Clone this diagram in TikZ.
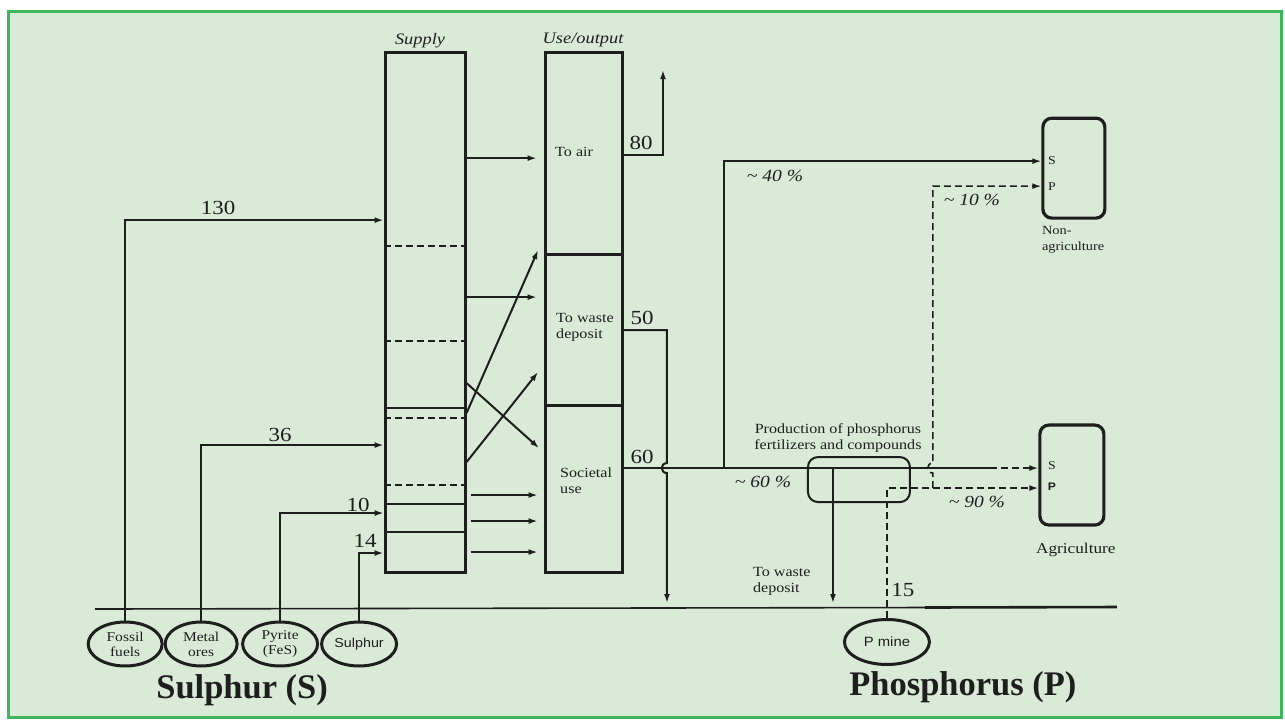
\documentclass[tikz,border=0pt]{standalone}
\usepackage{fontspec}
\setmainfont{Liberation Serif}
\newfontfamily\strserif[FakeStretch=1.15]{Liberation Serif}
\newfontfamily\strsans[FakeStretch=1.1]{Liberation Sans}
\usetikzlibrary{arrows.meta,shapes.geometric}
\definecolor{bgfill}{HTML}{D9EBD7}
\definecolor{framegreen}{HTML}{3DB55A}
\definecolor{ink}{HTML}{1E1E1E}
\begin{document}
\begin{tikzpicture}[x=1pt,y=-1pt, every path/.style={draw=ink}, every node/.style={text=ink},
  col/.style={draw=ink, line width=3pt, minimum width=80pt, minimum height=520pt, inner sep=0pt},
  arr/.style={-{Latex[length=9pt,width=6pt]}, line width=1.6pt},
  dsh/.style={dash pattern=on 7pt off 4pt},
  ell/.style={ellipse, draw=ink, line width=3pt, minimum width=74pt, minimum height=44pt, inner sep=0pt, align=center, font=\strserif\fontsize{13.5}{15}\selectfont},
  sbox/.style={draw=ink, rounded corners=9pt, line width=3.2pt, minimum width=62pt, minimum height=100pt},
  lbl/.style={font=\strserif\fontsize{14}{16}\selectfont, align=left, inner sep=0pt},
  num/.style={font=\strserif\fontsize{20}{21}\selectfont, inner sep=0pt},
  pct/.style={font=\strserif\itshape\fontsize{17}{18}\selectfont, inner sep=0pt},
  hdr/.style={font=\strserif\itshape\fontsize{16}{18}\selectfont, inner sep=0pt},
  ttl/.style={font=\bfseries\fontsize{34.5}{36}\selectfont, inner sep=0pt},
  sp/.style={font=\strserif\fontsize{12}{13}\selectfont, inner sep=0pt}
]
\useasboundingbox (0,0) rectangle (1285,720);
\fill[white] (0,0) rectangle (1285,720);
\draw[draw=framegreen, line width=3pt, fill=bgfill] (8.5,11.5) rectangle (1282,718);

% columns
\node[col] (supply) at (425,312) {};
\node[col, minimum width=77pt] (use) at (583.5,312) {};
\node[hdr] (supplyhdr) at (420,40) {Supply};
\node[hdr] (usehdr) at (583,40) {Use/output};

% use divisions
\draw[line width=3pt] (use.west |- 0,254) -- (use.east |- 0,254);
\draw[line width=3pt] (use.west |- 0,405) -- (use.east |- 0,405);
\node[lbl, anchor=west] (toair) at (555,152) {To air};
\node[lbl, anchor=west] (towaste) at (556,327) {To waste\\deposit};
\node[lbl, anchor=west] (societal) at (560,481) {Societal\\use};

% supply divisions
\foreach \yy in {246,341,418}
  \draw[dsh, line width=1.6pt] (supply.west |- 0,\yy) -- (supply.east |- 0,\yy);
\draw[dsh, line width=2.6pt] (supply.west |- 0,485) -- (supply.east |- 0,485);
\foreach \yy in {408,504,532}
  \draw[line width=2.6pt] (supply.west |- 0,\yy) -- (supply.east |- 0,\yy);

% supply -> use arrows
\coordinate (t1) at (538,250);
\coordinate (t2) at (538,372);
\coordinate (t3) at (539,448);
\draw[arr, shorten >=7pt] (supply.east |- 0,158) -- (use.west |- 0,158);
\draw[arr, shorten >=7pt] (supply.east |- 0,297) -- (use.west |- 0,297);
\draw[arr, line width=2pt] (supply.east |- 0,413) -- (t1);
\draw[arr, line width=2pt] (supply.east |- 0,462) -- (t2);
\draw[arr, line width=2pt] (supply.east |- 0,383) -- (t3);
\foreach \yy in {495,521,552}
  \draw[arr, shorten <=4pt, shorten >=6pt] (supply.east |- 0,\yy) -- (use.west |- 0,\yy);

% sources
\node[ell] (fossil) at (125,644) {Fossil\\fuels};
\node[ell, minimum width=72pt] (metal) at (201,644) {Metal\\ores};
\node[ell, minimum width=75pt] (pyrite) at (280,644) {Pyrite\\(FeS)};
\node[ell, minimum width=75pt, font=\strsans\fontsize{13}{15}\selectfont] (sulph) at (359,644) {Sulphur};
\node[ell, minimum width=85pt, minimum height=45pt, font=\strsans\fontsize{13.5}{15}\selectfont] (pmine) at (887,642) {P mine};

\draw[arr, line width=2pt] (fossil.north) |- (supply.west |- 0,220);
\draw[arr] (metal.north) |- (supply.west |- 0,445);
\draw[arr] (pyrite.north) |- (supply.west |- 0,513);
\draw[arr, line width=2pt] (sulph.north) |- (supply.west |- 0,553);
\node[num] (n130) at (218,208) {130};
\node[num] (n36) at (280,435) {36};
\node[num] (n10) at (358,505) {10};
\node[num] (n14) at (365,541) {14};

% ground line
\coordinate (gl) at (95,609);
\coordinate (gm) at (925,607.5);
\coordinate (gr) at (1117,607);
\draw[line width=1.6pt] (gl) -- (gm);
\draw[line width=2.6pt] (gm) -- (gr);

% outputs
\coordinate (airtop) at (663,70);
\draw[arr] (use.east |- 0,155) -| (airtop);
\node[num] (n80) at (641,143) {80};

\coordinate (w50) at (667,603);
\draw[arr, line width=2pt] (use.east |- 0,330) -- (667,330) -- (667,463) .. controls (660,463) and (660,473) .. (667,473) -- (w50);
\node[num] (n50) at (642,318) {50};

% boxes
\node[sbox] (nonagri) at (1074,168) {};
\node[sbox, minimum width=64pt] (agri) at (1072,475) {};
\node[sp] at (1052,160) {S};
\node[sp] at (1052,186) {P};
\node[sp] at (1052,466) {S};
\node[font=\strsans\bfseries\fontsize{11}{12}\selectfont, inner sep=0pt] at (1052,487) {P};
\node[lbl, anchor=west, font=\strserif\fontsize{12.5}{16}\selectfont] (nonagrilbl) at (1042,240) {Non-\\agriculture};
\node[lbl, anchor=west, font=\strserif\fontsize{15}{16}\selectfont] (agrilbl) at (1036,550) {Agriculture};

% production
\node[draw=ink, rounded corners=10pt, line width=2pt, minimum width=102pt, minimum height=45pt] (prod) at (859,479.5) {};
\node[lbl, align=center] (prodlbl) at (838,438) {Production of phosphorus\\fertilizers and compounds};

% 60 line
\coordinate (j60) at (990,468);
\draw[line width=1.6pt] (use.east |- 0,468) -- (j60);
\draw[arr, dsh] (j60) -- (agri.west |- 0,468);
\node[num] (n60) at (642,457) {60};
\node[pct] (p60) at (763,482) {\char"7E\ 60 \%};

% 40 % branch
\coordinate (j40) at (724,468);
\draw[arr] (j40) |- (nonagri.west |- 0,161);
\node[pct] (p40) at (775,176) {\char"7E\ 40 \%};

% to waste deposit from production
\coordinate (pw1) at (833,468);
\coordinate (pw2) at (833,603);
\draw[arr] (pw1) -- (pw2);
\node[lbl, anchor=west] (towaste2) at (753,581) {To waste\\deposit};

% P mine
\draw[arr, dsh] (pmine.north) |- (agri.west |- 0,488);
\node[pct] (p90) at (977,502) {\char"7E\ 90 \%};
\node[num] (n15) at (903,590) {15};
\coordinate (j10) at (933,488);
\draw[arr, dsh] (j10) -- (933,473) .. controls (926,473) and (926,463) .. (933,463) |- (nonagri.west |- 0,186);
\node[pct] (p10) at (972,200) {\char"7E\ 10 \%};

% titles
\node[ttl] (stitle) at (242,690) {Sulphur (S)};
\node[ttl] (ptitle) at (963,687) {Phosphorus (P)};
\end{tikzpicture}
\end{document}
